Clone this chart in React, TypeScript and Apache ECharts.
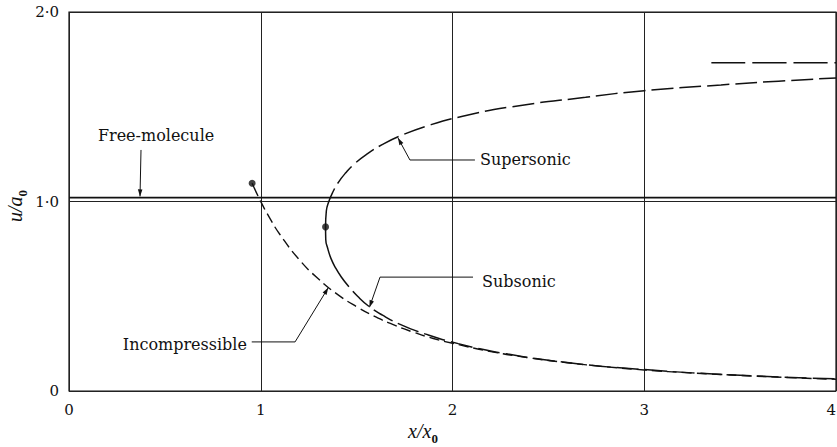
import React, { useEffect, useRef } from "react";
import * as echarts from "echarts";

// Axis ticks
const xTickValues = [0, 1, 2, 3, 4];
const yTickValues = [0, 1, 2];
const yTickLabels = ["0", "1·0", "2·0"];

// Incompressible source flow (short dashes), from its end point near x/x0 = 0.95
const incompressible: [number, number][] = [
  [0.955, 1.096], [1.0, 1.0], [1.05, 0.907], [1.1, 0.826], [1.2, 0.694],
  [1.3, 0.592], [1.4, 0.51], [1.5, 0.445], [1.6, 0.391], [1.7, 0.346],
  [1.8, 0.309], [1.9, 0.277], [2.0, 0.252], [2.2, 0.208], [2.4, 0.175],
  [2.6, 0.149], [2.8, 0.128], [3.0, 0.111], [3.25, 0.095], [3.5, 0.082],
  [3.75, 0.071], [4.0, 0.062],
];

// Supersonic branch, from the sonic point upward
const supersonic: [number, number][] = [
  [1.338, 0.866], [1.342, 0.95], [1.355, 1.0], [1.376, 1.05], [1.404, 1.1],
  [1.442, 1.15], [1.49, 1.2], [1.553, 1.25], [1.633, 1.3], [1.736, 1.35],
  [1.871, 1.4], [2.053, 1.45], [2.309, 1.5], [2.694, 1.55], [3.0, 1.585],
  [3.4, 1.615], [3.7, 1.635], [4.0, 1.652],
];

// Subsonic branch, from the sonic point downward
const subsonic: [number, number][] = [
  [1.338, 0.866], [1.339, 0.8], [1.35, 0.75], [1.366, 0.7], [1.39, 0.65],
  [1.421, 0.6], [1.46, 0.55], [1.505, 0.5], [1.56, 0.45], [1.635, 0.4],
  [1.73, 0.35], [1.86, 0.3], [2.03, 0.25], [2.259, 0.2], [2.597, 0.15],
  [3.0, 0.113], [3.5, 0.083], [4.0, 0.064],
];

// Free-molecule speed and the limiting speed
const freeMolecule: [number, number][] = [[0, 1.02], [4, 1.02]];
const limitSpeed: [number, number][] = [[3.35, 1.732], [4, 1.732]];

// End point of the incompressible curve and the sonic point
const markedPoints: [number, number][] = [[0.955, 1.096], [1.338, 0.866]];

// Curve labels: text anchor and leader path (last point is the arrow tip), in data units
type Note = {
  text: string;
  at: [number, number];
  align: "left" | "right" | "center";
  leader: [number, number][];
};
const notes: Note[] = [
  { text: "Free-molecule", at: [0.454, 1.346], align: "center", leader: [[0.3755, 1.272], [0.3703, 1.027]] },
  { text: "Supersonic", at: [2.143, 1.219], align: "left", leader: [[2.117, 1.219], [1.778, 1.219], [1.716, 1.335]] },
  { text: "Subsonic", at: [2.154, 0.576], align: "left", leader: [[2.107, 0.601], [1.622, 0.601], [1.567, 0.442]] },
  { text: "Incompressible", at: [0.928, 0.243], align: "right", leader: [[0.953, 0.259], [1.179, 0.259], [1.352, 0.545]] },
];

const INK = "#111";
const SERIF = "'DejaVu Serif', serif";

function dashes(first: number, dash: number, gap: number, count: number): number[] {
  const out = [first, gap];
  for (let i = 0; i < count; i++) out.push(dash, gap);
  return out;
}

export default function App() {
  const ref = useRef<HTMLDivElement>(null);

  useEffect(() => {
    const chart = echarts.init(ref.current!, null, { renderer: "svg" });

    const curve = (name: string, data: [number, number][], type: any, width = 1.5) => ({
      name,
      type: "line",
      data,
      smooth: true,
      showSymbol: false,
      symbol: "none",
      lineStyle: { color: INK, width, type },
      z: 3,
    });

    chart.setOption({
      animation: false,
      backgroundColor: "#fff",
      grid: {
        left: 69,
        right: 1,
        top: 12,
        bottom: 56,
        outerBoundsMode: "none",
        containLabel: false,
        show: true,
        borderColor: INK,
        borderWidth: 1.2,
        backgroundColor: "transparent",
      },
      xAxis: {
        type: "value",
        min: xTickValues[0],
        max: xTickValues[xTickValues.length - 1],
        interval: 1,
        axisLine: { show: false },
        axisTick: { show: false },
        splitLine: { show: true, lineStyle: { color: "#222", width: 1 } },
        axisLabel: {
          color: INK,
          fontFamily: SERIF,
          fontSize: 15,
          margin: 11,
          alignMaxLabel: "right",
          formatter: (v: number) => String(v),
        },
      },
      yAxis: {
        type: "value",
        min: yTickValues[0],
        max: yTickValues[yTickValues.length - 1],
        interval: 1,
        axisLine: { show: false },
        axisTick: { show: false },
        splitLine: { show: true, lineStyle: { color: "#222", width: 1 } },
        axisLabel: {
          color: INK,
          fontFamily: SERIF,
          fontSize: 15,
          margin: 10,
          formatter: (v: number) => yTickLabels[yTickValues.indexOf(v)] ?? "",
        },
      },
      series: [
        curve("Free-molecule", freeMolecule, "solid", 1.8),
        curve("Limit", limitSpeed, [34, 7], 1.5),
        curve("Incompressible", incompressible, dashes(14, 10, 5, 80), 1.4),
        curve("Supersonic", supersonic, dashes(40, 22, 6, 40), 1.5),
        curve("Subsonic", subsonic, dashes(66, 22, 6, 40), 1.5),
        {
          name: "points",
          type: "scatter",
          data: markedPoints,
          symbol: "circle",
          symbolSize: 7,
          itemStyle: { color: INK },
          z: 5,
        },
      ],
    });

    const px = (p: [number, number]) => chart.convertToPixel({ gridIndex: 0 }, p) as number[];

    const elements: any[] = [];
    notes.forEach((n) => {
      const pts = n.leader.map(px);
      elements.push({
        type: "polyline",
        shape: { points: pts },
        style: { stroke: INK, lineWidth: 1, fill: "none" },
        z: 10,
      });
      const tip = pts[pts.length - 1];
      const from = pts[pts.length - 2];
      const dx = tip[0] - from[0];
      const dy = tip[1] - from[1];
      const len = Math.hypot(dx, dy);
      const ux = dx / len;
      const uy = dy / len;
      const L = 7;
      const W = 2.3;
      const bx = tip[0] - ux * L;
      const by = tip[1] - uy * L;
      elements.push({
        type: "polygon",
        shape: { points: [tip, [bx - uy * W, by + ux * W], [bx + uy * W, by - ux * W]] },
        style: { fill: INK },
        z: 10,
      });
      const a = px(n.at);
      elements.push({
        type: "text",
        x: a[0],
        y: a[1],
        style: {
          text: n.text,
          fontFamily: SERIF,
          fontSize: 16,
          fill: INK,
          align: n.align,
          verticalAlign: "middle",
        },
        z: 10,
      });
    });

    const nameRich = {
      a: { fontFamily: "'Liberation Serif', serif", fontStyle: "italic", fontSize: 20, lineHeight: 24, verticalAlign: "top", fill: INK },
      b: { fontFamily: "'Liberation Serif', serif", fontWeight: "bold", fontSize: 13, lineHeight: 13, verticalAlign: "bottom", fill: INK },
    };
    // x-axis title
    elements.push({
      type: "text",
      x: 423,
      y: 433,
      style: { text: "{a|x/x}{b|0}", rich: nameRich, align: "center", verticalAlign: "middle" },
    });
    // y-axis title
    elements.push({
      type: "text",
      x: 17,
      y: 206,
      rotation: Math.PI / 2,
      style: { text: "{a|u/a}{b|0}", rich: nameRich, align: "center", verticalAlign: "middle" },
    });

    chart.setOption({ graphic: elements });

    return () => chart.dispose();
  }, []);

  return (
    <div
      ref={ref}
      style={{ position: "fixed", left: 0, top: 0, width: 837, height: 447, background: "#fff" }}
    />
  );
}
